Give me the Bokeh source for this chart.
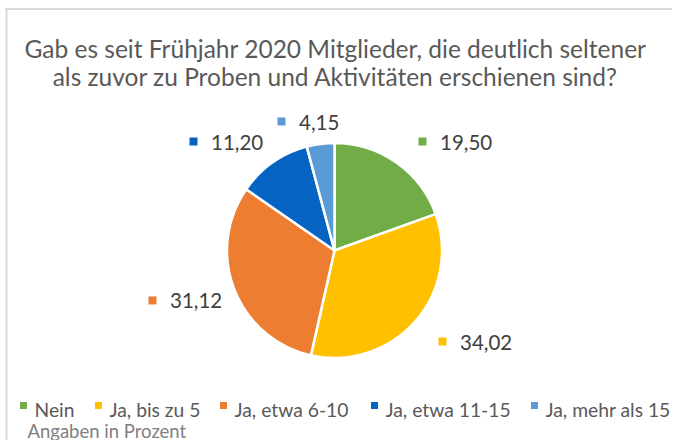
import math
from bokeh.plotting import figure
from bokeh.models import Range1d, ColumnDataSource
from bokeh.core.properties import value
from bokeh.embed import file_html
from bokeh.resources import INLINE

# ---- data ----
categories = ["Nein", "Ja, bis zu 5", "Ja, etwa 6-10", "Ja, etwa 11-15", "Ja, mehr als 15"]
values = [19.50, 34.02, 31.12, 11.20, 4.15]
colors = ["#70AD47", "#FFC000", "#ED7D31", "#0563C1", "#5B9BD5"]
title_lines = ["Gab es seit Frühjahr 2020 Mitglieder, die deutlich seltener",
               "als zuvor zu Proben und Aktivitäten erschienen sind?"]
footnote = "Angaben in Prozent"

W, H = 672, 440
FONT = "Lato"

def Y(img_y):
    # convert picture pixel y to data y
    return H - img_y

p = figure(width=W, height=H, output_backend="svg", toolbar_location=None,
           x_range=Range1d(0, W), y_range=Range1d(0, H), min_border=0)
p.axis.visible = False
p.grid.visible = False
p.outline_line_color = None
p.background_fill_color = "white"
p.border_fill_color = "white"

# ---- frame like the source ----
p.segment(x0=[5], y0=[Y(8.5)], x1=[W], y1=[Y(8.5)], line_color="#D9D9D9", line_width=2)
p.segment(x0=[6], y0=[Y(8)], x1=[6], y1=[Y(H)], line_color="#D9D9D9", line_width=2)

# ---- pie ----
cx, cy, R = 334, Y(250), 107.5
total = sum(values)
starts, ends = [], []
cum = 0.0
for v in values:
    a0 = math.pi / 2 - 2 * math.pi * cum / total
    cum += v
    a1 = math.pi / 2 - 2 * math.pi * cum / total
    starts.append(a1)
    ends.append(a0)

src = ColumnDataSource(dict(start=starts, end=ends, color=colors))
p.wedge(x=cx, y=cy, radius=R, start_angle="start", end_angle="end",
        fill_color="color", line_color="white", line_width=2.5, source=src)

# ---- data labels: (square centre dx, square centre dy, text dy) from pie centre ----
label_layout = [(88, -109, -108), (108, 91, 92), (-182, 50, 50), (-141, -109, -108), (-53, -129, -128)]
lab_sq_x, lab_sq_y, lab_tx, lab_ty, lab_txt = [], [], [], [], []
for v, (dx, dy, by) in zip(values, label_layout):
    lab_sq_x.append(cx + dx)
    lab_sq_y.append(cy - dy)
    lab_tx.append(cx + dx + 17.5)
    lab_ty.append(cy - by)
    lab_txt.append(f"{v:.2f}".replace(".", ","))
p.rect(x=lab_sq_x, y=lab_sq_y, width=8, height=8, fill_color=colors, line_color=None)
p.text(x=lab_tx, y=lab_ty, text=lab_txt, text_font=value(FONT), text_font_size="20.5px",
       text_color="#404040", text_baseline="alphabetic", text_align="left")

# ---- title ----
p.text(x=[335, 335], y=[Y(48), Y(76)], text=title_lines, text_font=value(FONT),
       text_font_size="24.5px", text_color="#595959", text_baseline="alphabetic",
       text_align="center")

# ---- legend ----
legend_sq_x = [23, 98, 223, 374, 534]
p.rect(x=legend_sq_x, y=[Y(405)] * 5, width=7, height=7,
       fill_color=colors, line_color=None)
p.text(x=[x + 11 for x in legend_sq_x], y=[Y(409)] * 5, text=categories,
       text_font=value(FONT), text_font_size="19.3px", text_color="#595959",
       text_baseline="alphabetic", text_align="left")

# ---- footnote ----
p.text(x=[27], y=[Y(430)], text=[footnote], text_font=value(FONT),
       text_font_size="18.5px", text_color="#808080", text_baseline="alphabetic",
       text_align="left")

open("out.html", "w").write(file_html(p, INLINE))
